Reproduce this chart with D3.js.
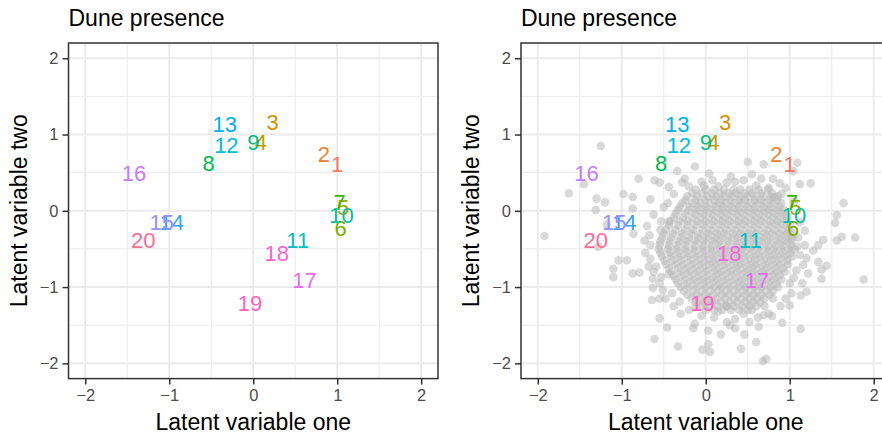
<!DOCTYPE html>
<html>
<head>
<meta charset="utf-8">
<script src="https://cdn.jsdelivr.net/npm/d3@7"></script>
<style>
  body { margin: 0; background: #fff; }
  text { font-family: "Liberation Sans", Arial, sans-serif; }
</style>
</head>
<body>
<div id="chart"></div>
<script>
// Site labels and their positions on the two latent variables
var sites = ["1","2","3","4","5","6","7","8","9","10","11","12","13","14","15","16","17","18","19","20"];
var lvOne = [1.00, 0.84, 0.23, 0.09, 1.07, 1.04, 1.03, -0.53, 0.00, 1.05, 0.53, -0.32, -0.34, -0.97, -1.09, -1.42, 0.61, 0.28, -0.04, -1.31];
var lvTwo = [0.61, 0.75, 1.16, 0.90, 0.05, -0.23, 0.11, 0.63, 0.90, -0.06, -0.38, 0.86, 1.14, -0.15, -0.15, 0.49, -0.91, -0.55, -1.21, -0.38];
var siteColors = ["#F8766D","#EA8331","#D89000","#C09B00","#A3A500","#7CAE00","#39B600","#00BB4E","#00BF7D","#00C1A3",
                  "#00BFC4","#00BAE0","#00B0F6","#35A2FF","#9590FF","#C77CFF","#E76BF3","#FA62DB","#FF62BC","#FF6C91"];

// Grey cloud in the right panel: scattered points read one by one...
var cloudOuter = [
  [-1.25,0.85],[-1.63,0.23],[-1.45,0.35],[-1.30,0.16],[-1.20,0.11],[-1.31,0.01],[-1.92,-0.33],[-0.98,0.22],
  [-0.87,0.18],[-0.80,0.42],[-0.66,0.15],[-0.87,0.03],[-0.86,-0.30],[-1.18,-0.18],[-1.28,-0.47],[-1.10,-0.76],
  [-1.10,-0.87],[-1.04,-0.65],[-0.94,-0.65],[-0.87,-0.82],[-0.79,-0.81],[-0.73,-0.39],[-0.67,-0.32],[-0.61,0.40],
  [-0.55,0.37],[-0.44,0.31],[-0.53,-0.14],[-0.44,-0.14],[-0.54,-0.25],[-0.34,0.52],[-0.28,0.37],[-0.13,0.58],
  [0.04,0.49],[-0.05,0.38],[0.15,0.32],[0.25,0.37],[0.35,0.38],[0.50,0.64],[0.69,0.61],[0.66,0.42],
  [0.88,0.36],[1.09,0.63],[1.04,0.52],[1.12,0.35],[1.25,0.36],[0.82,0.18],[1.64,0.10],[1.56,-0.06],
  [1.54,-0.16],[1.62,-0.34],[1.56,-0.39],[1.78,-0.35],[1.40,-0.38],[1.34,-0.45],[1.28,-0.52],[1.18,-0.26],
  [1.09,-0.47],[1.34,-0.67],[1.44,-0.72],[1.38,-0.77],[1.38,-0.89],[1.22,-0.82],[1.16,-0.71],[1.88,-0.90],
  [1.20,-1.06],[1.13,-1.11],[1.00,-0.95],[1.00,-1.24],[0.89,-1.25],[0.91,-1.47],[1.13,-1.55],[0.79,-1.38],
  [0.69,-1.37],[0.63,-1.52],[0.60,-1.72],[0.68,-1.97],[0.72,-1.94],[0.46,-1.62],[0.42,-1.81],[0.52,-1.46],
  [0.35,-1.54],[0.29,-1.50],[0.25,-1.46],[0.18,-1.62],[0.03,-1.57],[0.03,-1.75],[-0.04,-1.82],[0.05,-1.85],
  [-0.33,-1.78],[-0.15,-1.54],[-0.13,-1.48],[-0.46,-1.53],[-0.55,-1.41],[-0.61,-1.68],[-0.64,-1.17],[-0.55,-1.15],
  [-0.63,-1.01],[-0.51,-1.04],[-0.40,-1.08],[-0.31,-1.19],[-0.66,-0.63],[-0.59,-0.73],[-0.68,-0.73],[-0.63,-0.89],
  [-0.53,-0.87],[-0.44,-0.83],[1.10,-0.35],[1.12,-0.58],[1.08,-0.78],[1.05,-0.88],[0.60,0.33],[0.75,0.30],
  [0.90,0.22],[0.30,0.45],[-0.20,0.32],[0.70,-1.25],[0.80,-1.15],[-0.20,-1.30],[0.10,-1.40],[0.45,-1.35]
];

// points on the ragged rim between the core and the scattered ones
var cloudRim = [
  [-0.62,-0.05],[-0.70,-0.20],[-0.66,-0.45],[-0.72,-0.55],[-0.62,-0.80],[-0.55,-0.95],[-0.48,-1.15],[-0.38,-1.25],
  [-0.45,0.10],[-0.38,0.22],[-0.50,0.05],[-0.25,0.42],[0.08,0.40],[0.45,0.40],[0.80,0.42],[0.95,0.30],
  [0.55,0.48],[-0.02,0.33],[1.05,0.12],[1.12,-0.15],[1.18,-0.45],[1.20,-0.62],[1.15,-0.95],[1.02,-1.08],
  [0.95,-1.15],[0.75,-1.35],[0.62,-1.40],[0.55,-1.30],[0.35,-1.42],[0.15,-1.32],[-0.05,-1.38],[-0.12,-1.25],
  [-0.30,-1.35],[0.25,-1.25]
];

// ...and the dense core, estimated row by row (y, then x positions)
var cloudCore = [
  [0.28, [-0.12, 0.00, 0.10, 0.22, 0.33, 0.41, 0.52, 0.63, 0.74]],
  [0.23, [-0.16, -0.05, 0.07, 0.17, 0.27, 0.36, 0.46, 0.55, 0.66, 0.79]],
  [0.19, [-0.22, -0.10, 0.02, 0.12, 0.21, 0.30, 0.40, 0.49, 0.58, 0.68, 0.77, 0.86]],
  [0.14, [-0.24, -0.12, -0.01, 0.10, 0.19, 0.29, 0.39, 0.47, 0.58, 0.66, 0.76, 0.85]],
  [0.10, [-0.28, -0.16, -0.06, 0.05, 0.15, 0.24, 0.34, 0.43, 0.53, 0.62, 0.71, 0.80, 0.90]],
  [0.05, [-0.31, -0.19, -0.09, 0.01, 0.12, 0.21, 0.31, 0.40, 0.50, 0.59, 0.69, 0.78, 0.88]],
  [0.01, [-0.33, -0.21, -0.11, -0.01, 0.09, 0.19, 0.28, 0.38, 0.47, 0.57, 0.66, 0.75, 0.85, 0.93]],
  [-0.04, [-0.36, -0.24, -0.13, -0.03, 0.07, 0.17, 0.26, 0.36, 0.45, 0.55, 0.64, 0.74, 0.83, 0.92]],
  [-0.09, [-0.38, -0.27, -0.16, -0.06, 0.04, 0.14, 0.23, 0.33, 0.42, 0.52, 0.61, 0.70, 0.80, 0.89, 0.97]],
  [-0.14, [-0.42, -0.31, -0.21, -0.10, 0.00, 0.10, 0.20, 0.29, 0.39, 0.48, 0.58, 0.67, 0.77, 0.86, 0.95]],
  [-0.19, [-0.44, -0.33, -0.22, -0.12, -0.02, 0.08, 0.18, 0.27, 0.37, 0.46, 0.56, 0.65, 0.75, 0.84, 0.93, 1.01]],
  [-0.25, [-0.47, -0.36, -0.25, -0.15, -0.04, 0.06, 0.16, 0.25, 0.35, 0.44, 0.54, 0.63, 0.73, 0.82, 0.91, 0.99]],
  [-0.30, [-0.50, -0.39, -0.28, -0.17, -0.07, 0.03, 0.13, 0.22, 0.32, 0.41, 0.51, 0.60, 0.70, 0.79, 0.88, 0.97, 1.04]],
  [-0.35, [-0.52, -0.41, -0.30, -0.20, -0.09, 0.01, 0.11, 0.20, 0.30, 0.39, 0.49, 0.58, 0.68, 0.77, 0.87, 0.96, 1.03]],
  [-0.40, [-0.54, -0.43, -0.32, -0.22, -0.12, -0.02, 0.08, 0.17, 0.27, 0.37, 0.46, 0.56, 0.65, 0.74, 0.84, 0.93, 1.02]],
  [-0.45, [-0.55, -0.44, -0.34, -0.24, -0.13, -0.03, 0.07, 0.16, 0.26, 0.36, 0.45, 0.55, 0.64, 0.74, 0.83, 0.92, 1.01]],
  [-0.50, [-0.56, -0.45, -0.35, -0.25, -0.15, -0.05, 0.05, 0.14, 0.24, 0.34, 0.43, 0.53, 0.62, 0.72, 0.81, 0.90, 0.99, 1.06]],
  [-0.55, [-0.54, -0.43, -0.33, -0.23, -0.13, -0.03, 0.07, 0.17, 0.26, 0.36, 0.45, 0.55, 0.64, 0.74, 0.83, 0.92, 1.01]],
  [-0.60, [-0.52, -0.41, -0.31, -0.21, -0.11, -0.01, 0.09, 0.19, 0.28, 0.38, 0.47, 0.57, 0.66, 0.76, 0.85, 0.94, 1.03]],
  [-0.65, [-0.49, -0.39, -0.29, -0.18, -0.08, 0.02, 0.11, 0.21, 0.31, 0.40, 0.50, 0.59, 0.69, 0.78, 0.87, 0.97]],
  [-0.70, [-0.47, -0.36, -0.26, -0.16, -0.06, 0.04, 0.13, 0.23, 0.33, 0.42, 0.52, 0.61, 0.71, 0.80, 0.89, 0.98]],
  [-0.75, [-0.44, -0.33, -0.23, -0.13, -0.03, 0.07, 0.16, 0.26, 0.36, 0.45, 0.55, 0.64, 0.73, 0.83, 0.92]],
  [-0.80, [-0.41, -0.30, -0.20, -0.10, 0.00, 0.10, 0.19, 0.29, 0.38, 0.48, 0.57, 0.67, 0.76, 0.85, 0.94]],
  [-0.85, [-0.38, -0.28, -0.18, -0.08, 0.02, 0.12, 0.21, 0.31, 0.41, 0.50, 0.60, 0.69, 0.79, 0.88]],
  [-0.90, [-0.36, -0.25, -0.15, -0.05, 0.05, 0.14, 0.24, 0.34, 0.43, 0.53, 0.62, 0.72, 0.81, 0.90]],
  [-0.95, [-0.33, -0.22, -0.12, -0.02, 0.08, 0.17, 0.27, 0.37, 0.46, 0.56, 0.65, 0.75, 0.84]],
  [-1.00, [-0.30, -0.20, -0.10, 0.00, 0.10, 0.19, 0.29, 0.39, 0.48, 0.58, 0.67, 0.77, 0.86]],
  [-1.05, [-0.26, -0.15, -0.05, 0.05, 0.15, 0.24, 0.34, 0.44, 0.53, 0.62, 0.72, 0.80]],
  [-1.10, [-0.22, -0.11, -0.01, 0.09, 0.19, 0.28, 0.38, 0.48, 0.57, 0.66, 0.76]],
  [-1.15, [-0.17, -0.07, 0.03, 0.13, 0.23, 0.33, 0.42, 0.52, 0.61, 0.70]],
  [-1.20, [-0.12, -0.02, 0.08, 0.18, 0.28, 0.37, 0.47, 0.56, 0.65]],
  [-1.25, [-0.06, 0.04, 0.14, 0.24, 0.33, 0.43, 0.52, 0.60]],
  [-1.30, [0.00, 0.10, 0.20, 0.30, 0.40, 0.50]]
];

var majorTicks = [-2, -1, 0, 1, 2];
var minorTicks = [-1.5, -0.5, 0.5, 1.5];

var svgWidth = 882;
var svgHeight = 436;
var panelW = 369.5;
var panelH = 335.6;
var panelTop = 43;
var panelLefts = [68.5, 521];

var svg = d3.select("#chart")
    .append("svg")
    .attr("width", svgWidth)
    .attr("height", svgHeight);

var labels = sites.map(function(s, i) {
    return { site: s, x: lvOne[i], y: lvTwo[i], color: siteColors[i] };
});

var cloud = cloudOuter.concat(cloudRim).map(function(p) { return { x: p[0], y: p[1] }; });
cloudCore.forEach(function(row) {
    row[1].forEach(function(x) { cloud.push({ x: x, y: row[0] }); });
});

function drawPanel(left, withCloud) {
    var g = svg.append("g")
        .attr("transform", `translate(${left}, ${panelTop})`);

    var xScale = d3.scaleLinear().domain([-2.2, 2.2]).range([0, panelW]);
    var yScale = d3.scaleLinear().domain([-2.2, 2.2]).range([panelH, 0]);

    // grid
    g.selectAll(".minorx").data(minorTicks).enter().append("line")
        .attr("x1", d => xScale(d)).attr("x2", d => xScale(d))
        .attr("y1", 0).attr("y2", panelH)
        .attr("stroke", "#ebebeb").attr("stroke-width", 1);
    g.selectAll(".minory").data(minorTicks).enter().append("line")
        .attr("y1", d => yScale(d)).attr("y2", d => yScale(d))
        .attr("x1", 0).attr("x2", panelW)
        .attr("stroke", "#ebebeb").attr("stroke-width", 1);
    g.selectAll(".majorx").data(majorTicks).enter().append("line")
        .attr("x1", d => xScale(d)).attr("x2", d => xScale(d))
        .attr("y1", 0).attr("y2", panelH)
        .attr("stroke", "#ebebeb").attr("stroke-width", 2);
    g.selectAll(".majory").data(majorTicks).enter().append("line")
        .attr("y1", d => yScale(d)).attr("y2", d => yScale(d))
        .attr("x1", 0).attr("x2", panelW)
        .attr("stroke", "#ebebeb").attr("stroke-width", 2);

    if (withCloud) {
        g.append("g").selectAll("circle")
            .data(cloud)
            .enter()
            .append("circle")
            .attr("cx", d => xScale(d.x))
            .attr("cy", d => yScale(d.y))
            .attr("r", 4.3)
            .attr("fill", "#bababa")
            .attr("opacity", 0.55);
    }

    g.append("g").selectAll("text")
        .data(labels)
        .enter()
        .append("text")
        .attr("x", d => xScale(d.x))
        .attr("y", d => yScale(d.y))
        .attr("dy", "0.36em")
        .attr("text-anchor", "middle")
        .attr("font-size", "22px")
        .attr("fill", d => d.color)
        .text(d => d.site);

    // border
    g.append("rect")
        .attr("width", panelW).attr("height", panelH)
        .attr("fill", "none")
        .attr("stroke", "#333333")
        .attr("stroke-width", 1.5);

    // axes
    var xAxis = d3.axisBottom(xScale).tickValues(majorTicks).tickFormat(d3.format("d"))
        .tickSize(6).tickSizeOuter(0).tickPadding(5);
    var yAxis = d3.axisLeft(yScale).tickValues(majorTicks).tickFormat(d3.format("d"))
        .tickSize(6).tickSizeOuter(0).tickPadding(4);

    var xg = g.append("g").attr("transform", `translate(0, ${panelH})`).call(xAxis);
    var yg = g.append("g").call(yAxis);
    [xg, yg].forEach(function(a) {
        a.select(".domain").remove();
        a.selectAll(".tick line").attr("stroke", "#333333").attr("stroke-width", 1.5);
        a.selectAll(".tick text")
            .attr("fill", "#4d4d4d")
            .attr("font-size", "16.5px")
            .attr("font-family", "Liberation Sans, Arial, sans-serif");
    });

    // titles
    g.append("text")
        .attr("x", 0)
        .attr("y", 26 - panelTop)
        .attr("font-size", "23px")
        .attr("fill", "black")
        .text("Dune presence");

    g.append("text")
        .attr("x", panelW / 2)
        .attr("y", 430 - panelTop)
        .attr("text-anchor", "middle")
        .attr("font-size", "23px")
        .attr("fill", "black")
        .text("Latent variable one");

    g.append("text")
        .attr("transform", "rotate(-90)")
        .attr("x", -yScale(0))
        .attr("y", -42)
        .attr("text-anchor", "middle")
        .attr("font-size", "23px")
        .attr("fill", "black")
        .text("Latent variable two");
}

drawPanel(panelLefts[0], false);
drawPanel(panelLefts[1], true);
</script>
</body>
</html>
